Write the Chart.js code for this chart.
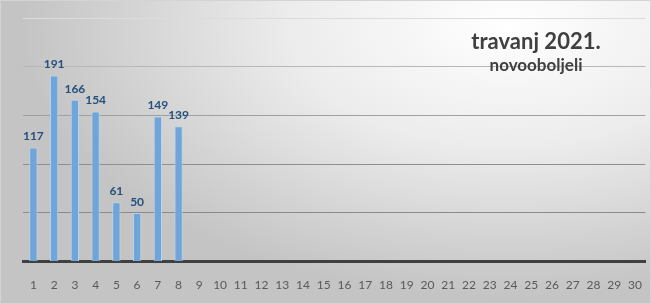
<!DOCTYPE html>
<html>
<head>
<meta charset="utf-8">
<script src="https://cdn.jsdelivr.net/npm/chart.js@4"></script>
<style>
  html, body { margin: 0; padding: 0; }
  body { width: 651px; height: 304px; overflow: hidden; }
  #wrap {
    position: relative; width: 649px; height: 302px;
    border: 1px solid #d4d4d4;
    background: radial-gradient(ellipse 75% 90% at 78% 8%, #ffffff 0%, #ececec 45%, #d2d2d2 80%, #c4c4c4 100%);
  }
  canvas { display: block; }
</style>
</head>
<body>
<div id="wrap"><canvas id="chart" width="649" height="302"></canvas></div>
<script>
const days = Array.from({ length: 30 }, (_, i) => String(i + 1));
const newCases = [117, 191, 166, 154, 61, 50, 149, 139];
const titleText = 'travanj 2021.';
const subtitleText = 'novooboljeli';

const gridColors = { 50: '#8a8a8a', 100: '#8e8e8e', 150: '#a0a0a0', 200: '#b8b8b8', 250: '#dcdcdc' };

const valueLabels = {
  id: 'valueLabels',
  afterDatasetsDraw(chart) {
    const { ctx } = chart;
    const meta = chart.getDatasetMeta(0);
    ctx.save();
    ctx.font = 'bold 12px Lato';
    ctx.fillStyle = '#24507d';
    ctx.textAlign = 'center';
    ctx.textBaseline = 'bottom';
    meta.data.forEach((bar, i) => {
      ctx.fillText(String(newCases[i]), bar.x, bar.y - 5);
    });
    ctx.restore();
  }
};

const titleBlock = {
  id: 'titleBlock',
  afterDraw(chart) {
    const { ctx } = chart;
    ctx.save();
    ctx.fillStyle = '#404040';
    ctx.textAlign = 'center';
    ctx.textBaseline = 'middle';
    ctx.font = 'bold 22px Lato';
    ctx.fillText(titleText, 535, 41);
    ctx.font = 'bold 17px Lato';
    ctx.fillText(subtitleText, 535, 65);
    ctx.restore();
  }
};

new Chart(document.getElementById('chart'), {
  type: 'bar',
  data: {
    labels: days,
    datasets: [{
      label: 'novooboljeli',
      data: newCases,
      backgroundColor: '#6fa5d8',
      borderColor: '#b9d4ee',
      borderWidth: 1,
      barPercentage: 0.5,
      categoryPercentage: 0.8
    }]
  },
  options: {
    responsive: false, animation: false,
    layout: { padding: { left: 22, right: 2, top: 17, bottom: 3 } },
    plugins: { legend: { display: false }, tooltip: { enabled: false } },
    scales: {
      x: {
        grid: { display: false },
        border: { color: '#404040', width: 3 },
        ticks: { color: '#595959', font: { family: 'Lato', size: 12 }, padding: 8, maxRotation: 0, autoSkip: false }
      },
      y: {
        min: 0, max: 250,
        ticks: { display: false, stepSize: 50 },
        border: { display: false },
        grid: {
          drawTicks: false,
          color: (c) => c.tick && c.tick.value === 0 ? 'rgba(0,0,0,0)' : (gridColors[c.tick.value] || '#999'),
          lineWidth: 1
        }
      }
    }
  },
  plugins: [valueLabels, titleBlock]
});
</script>
</body>
</html>
